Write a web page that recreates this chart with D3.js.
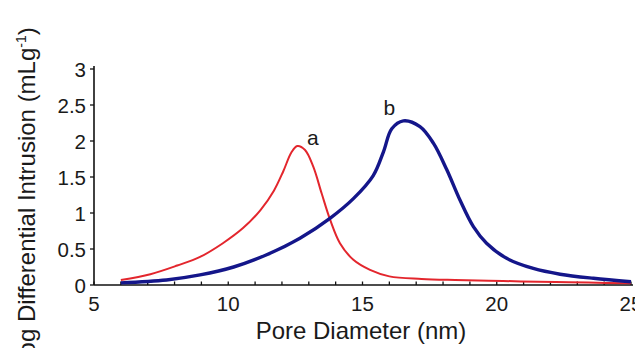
<!DOCTYPE html>
<html><head><meta charset="utf-8">
<script src="https://cdn.jsdelivr.net/npm/d3@7"></script>
<style>body{margin:0;background:#fff}svg{display:block}text{font-family:"Liberation Sans",Arial,Helvetica,sans-serif;fill:#1a1a1a}</style>
</head><body><svg id="c" width="635" height="348"></svg>
<script>
const xTicks = [5,10,15,20,25];
const yTicks = [0,0.5,1,1.5,2,2.5,3];
const seriesA_x = [6.0,7.1,8.1,8.95,9.8,10.55,11.2,11.7,12.05,12.35,12.57,12.86,13.17,13.48,13.8,14.16,14.66,15.28,16.0,17.2,18.45,19.7,20.9,22.2,23.4,25];
const seriesA_y = [0.07,0.15,0.27,0.39,0.58,0.79,1.04,1.31,1.58,1.84,1.93,1.875,1.64,1.27,0.9,0.58,0.35,0.21,0.12,0.085,0.07,0.06,0.05,0.042,0.033,0.023];
const seriesB_x = [6.0,7.7,8.95,10.2,11.43,12.67,13.8,14.66,15.4,15.78,16.09,16.52,17.14,17.64,18.14,18.63,19.13,19.62,20.37,21.36,22.36,23.6,25];
const seriesB_y = [0.03,0.07,0.14,0.25,0.42,0.65,0.93,1.2,1.52,1.85,2.17,2.28,2.2,1.97,1.6,1.18,0.81,0.58,0.37,0.23,0.15,0.093,0.046];
const labels = [{t:"a",x:13.15,y:1.94},{t:"b",x:16.0,y:2.36}];

const svg = d3.select("#c");
const x = d3.scaleLinear().domain([5,25]).range([94,631]);
const y = d3.scaleLinear().domain([0,3]).range([285,69]);

// x axis
const gx = svg.append("g").attr("transform","translate(0,285)");
gx.append("line").attr("x1",x(5)).attr("x2",x(25)+2).attr("stroke","#111").attr("stroke-width",1.6);
gx.selectAll(".mt").data(d3.range(5,26)).enter().append("line")
  .attr("x1",d=>x(d)).attr("x2",d=>x(d)).attr("y1",0).attr("y2",-3.5).attr("stroke","#111").attr("stroke-width",1.3);
gx.selectAll(".tl").data(xTicks).enter().append("text").attr("x",d=>x(d)).attr("y",26)
  .attr("text-anchor","middle").attr("font-size",20.5).text(d=>d);

// y axis
const gy = svg.append("g");
gy.append("line").attr("x1",x(5)).attr("x2",x(5)).attr("y1",285).attr("y2",66).attr("stroke","#111").attr("stroke-width",1.6);
gy.selectAll(".yt").data(yTicks).enter().append("line")
  .attr("x1",x(5)-4).attr("x2",x(5)).attr("y1",d=>y(d)).attr("y2",d=>y(d)).attr("stroke","#111").attr("stroke-width",1.3);
gy.selectAll(".yl").data(yTicks).enter().append("text").attr("x",86).attr("y",d=>y(d)+7.5)
  .attr("text-anchor","end").attr("font-size",20.5).text(d=>d);

// titles
svg.append("text").attr("x",361).attr("y",339).attr("text-anchor","middle").attr("font-size",24).text("Pore Diameter (nm)");
const yt = svg.append("text").attr("transform","translate(35,198) rotate(-90)").attr("text-anchor","middle").attr("font-size",24);
yt.append("tspan").text("Log Differential Intrusion (mLg");
yt.append("tspan").attr("font-size",14).attr("dy",-9).text("-1");
yt.append("tspan").attr("dy",9).text(")");

const line = d3.line().x(d=>x(d[0])).y(d=>y(d[1])).curve(d3.curveCatmullRom);
svg.append("path").datum(d3.zip(seriesA_x,seriesA_y)).attr("d",line).attr("fill","none").attr("stroke","#e3262d").attr("stroke-width",2);
svg.append("path").datum(d3.zip(seriesB_x,seriesB_y)).attr("d",line).attr("fill","none").attr("stroke","#14168a").attr("stroke-width",3.4);

svg.selectAll(".lab").data(labels).enter().append("text").attr("x",d=>x(d.x)).attr("y",d=>y(d.y))
  .attr("text-anchor","middle").attr("font-size",21).text(d=>d.t);
</script></body></html>
